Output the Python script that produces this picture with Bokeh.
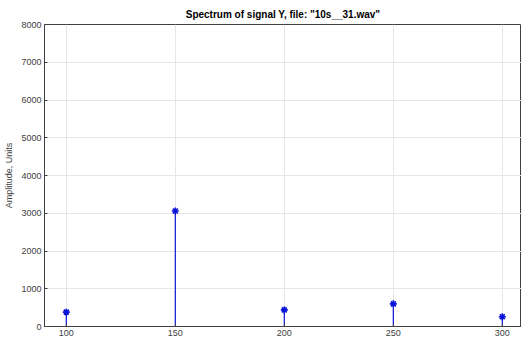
from bokeh.plotting import figure
from bokeh.models import Range1d, FixedTicker
from bokeh.embed import file_html
from bokeh.resources import INLINE

freqs = [100, 150, 200, 250, 300]
amps = [380, 3060, 440, 600, 260]
x_ticks = [100, 150, 200, 250, 300]
y_ticks = [0, 1000, 2000, 3000, 4000, 5000, 6000, 7000, 8000]

FONT = "Liberation Sans"
BLUE = "#0a14d8"

p = figure(width=521, height=340, output_backend="svg", toolbar_location=None,
           x_range=Range1d(90, 308.8), y_range=Range1d(0, 8000),
           min_border_left=44, min_border_right=0, min_border_top=24, min_border_bottom=14)

p.title.text = 'Spectrum of signal Y, file: "10s__31.wav"'
p.title.align = "center"
p.title.text_font = FONT
p.title.text_font_size = "10px"
p.title.text_font_style = "bold"
p.title.text_color = "#000000"
p.title.offset = 0
p.title.standoff = 9

p.segment(x0=freqs, y0=[0] * len(freqs), x1=freqs, y1=amps, line_color=BLUE, line_width=1.2)
p.scatter(x=freqs, y=amps, marker="asterisk", size=7, line_color=BLUE, line_width=1.6)

for ax in (p.xaxis[0], p.yaxis[0]):
    ax.major_label_text_font = FONT
    ax.major_label_text_font_size = "9px"
    ax.major_label_text_color = "#404040"
    ax.axis_line_color = "#404040"
    ax.major_tick_line_color = "#404040"
    ax.major_tick_in = 3
    ax.major_tick_out = 0
    ax.minor_tick_line_color = None
    ax.major_label_standoff = 3

p.xaxis.ticker = FixedTicker(ticks=x_ticks)
p.yaxis.ticker = FixedTicker(ticks=y_ticks)
p.yaxis.axis_label = "Amplitude, Units"
p.yaxis.axis_label_text_font = FONT
p.yaxis.axis_label_text_font_size = "9px"
p.yaxis.axis_label_text_font_style = "normal"
p.yaxis.axis_label_text_color = "#404040"
p.yaxis.axis_label_standoff = 4

p.xgrid.ticker = FixedTicker(ticks=x_ticks)
p.ygrid.ticker = FixedTicker(ticks=y_ticks)
p.grid.grid_line_color = "#e6e6e6"
p.outline_line_color = "#404040"
p.outline_line_alpha = 1
p.background_fill_color = "white"
p.border_fill_color = "white"

open("out.html", "w").write(file_html(p, INLINE))
